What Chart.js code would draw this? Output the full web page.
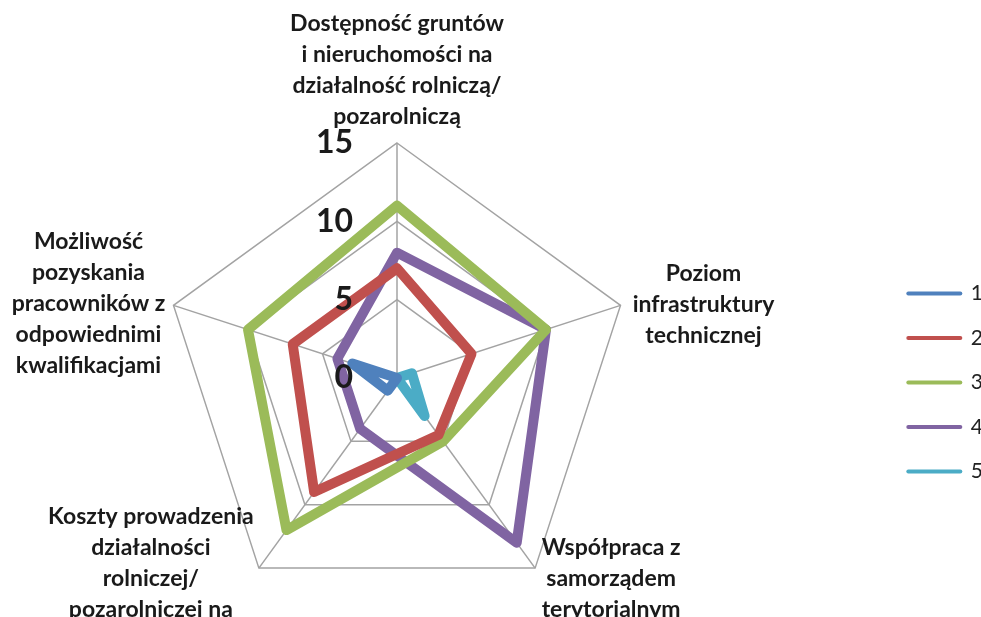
<!DOCTYPE html>
<html>
<head>
<meta charset="utf-8">
<script src="https://cdn.jsdelivr.net/npm/chart.js@4.4.1/dist/chart.umd.min.js"></script>
<style>
  html, body { margin: 0; padding: 0; background: #fff; }
  #wrap { width: 981px; height: 617px; }
</style>
</head>
<body>
<div id="wrap"><canvas id="radar"></canvas></div>
<script>
// axis categories (one entry per spoke, already split into lines)
const categories = [
  ['Dostępność gruntów', 'i nieruchomości na', 'działalność rolniczą/', 'pozarolniczą'],
  ['Poziom', 'infrastruktury', 'technicznej'],
  ['Współpraca z', 'samorządem', 'terytorialnym'],
  ['Koszty prowadzenia', 'działalności', 'rolniczej/', 'pozarolniczej na'],
  ['Możliwość', 'pozyskania', 'pracowników z', 'odpowiednimi', 'kwalifikacjami']
];
const seriesNames = ['1', '2', '3', '4', '5'];
const series1 = [0, 0, 0, 1, 3];
const series2 = [7, 5, 4.5, 9, 7];
const series3 = [11, 10, 5, 12, 10];
const series4 = [8, 10, 13, 4, 4];
const series5 = [0, 1, 3, 0, 0];
const tickValues = [0, 5, 10, 15];

const colors = ['#4F81BD', '#C0504D', '#9BBB59', '#8064A2', '#4BACC6'];
const allSeries = [series1, series2, series3, series4, series5];

// category labels drawn around the outer ring
const axisLabels = {
  id: 'axisLabels',
  afterDraw(chart) {
    const scale = chart.scales.r;
    const ctx = chart.ctx;
    const lineH = 31;
    // shift of the label block from each outer vertex (x, first line y)
    const shift = [[0, -119], [83, -32], [76, -21], [-108, -52], [-85, -64]];
    ctx.save();
    ctx.font = 'bold 23px Lato';
    ctx.fillStyle = '#1a1a1a';
    ctx.textAlign = 'center';
    ctx.textBaseline = 'middle';
    categories.forEach((lines, i) => {
      const p = scale.getPointPosition(i, scale.drawingArea);
      lines.forEach((t, k) => {
        ctx.fillText(t, p.x + shift[i][0], p.y + shift[i][1] + k * lineH);
      });
    });
    ctx.restore();
  },
  afterDatasetsDraw(chart) {
    // big tick numbers left of the vertical spoke
    const scale = chart.scales.r;
    const ctx = chart.ctx;
    ctx.save();
    ctx.font = 'bold 32px Lato';
    ctx.fillStyle = '#1a1a1a';
    ctx.textAlign = 'right';
    ctx.textBaseline = 'middle';
    tickValues.forEach(v => {
      const d = scale.getDistanceFromCenterForValue(v);
      ctx.fillText(String(v), scale.xCenter - 44, scale.yCenter - d);
    });
    ctx.restore();
  }
};

const chart = new Chart(document.getElementById('radar'), {
  type: 'radar',
  data: {
    labels: categories,
    datasets: allSeries.map((data, i) => ({
      label: seriesNames[i],
      data: data,
      borderColor: colors[i],
      backgroundColor: colors[i],
      borderWidth: 10,
      fill: false,
      pointRadius: 0,
      pointHoverRadius: 0,
      borderJoinStyle: 'round',
      borderCapStyle: 'round',
      tension: 0
    }))
  },
  options: {
    responsive: true,
    maintainAspectRatio: false,
    animation: false,
    devicePixelRatio: 1,
    events: [],
    layout: { padding: { top: 148, right: -12, left: 0, bottom: 0 } },
    scales: {
      r: {
        min: 0,
        max: 15,
        ticks: { stepSize: 5, display: false },
        grid: { color: '#a3a3a3', lineWidth: 1.5 },
        angleLines: { color: '#a3a3a3', lineWidth: 1.5 },
        pointLabels: { display: false },
        afterFit(scale) {
          scale.xCenter = 397;
          scale.yCenter = 378;
          scale.drawingArea = 235;
        }
      }
    },
    plugins: {
      tooltip: { enabled: false },
      legend: {
        position: 'right',
        labels: {
          usePointStyle: true,
          pointStyle: 'line',
          pointStyleWidth: 52,
          color: '#222',
          font: { family: 'Lato', size: 21 },
          padding: 23.5,
          generateLabels(c) {
            const items = Chart.defaults.plugins.legend.labels.generateLabels(c);
            items.forEach(it => { it.lineWidth = 4; it.lineCap = 'round'; });
            return items;
          }
        }
      }
    }
  },
  plugins: [axisLabels]
});
</script>
</body>
</html>
